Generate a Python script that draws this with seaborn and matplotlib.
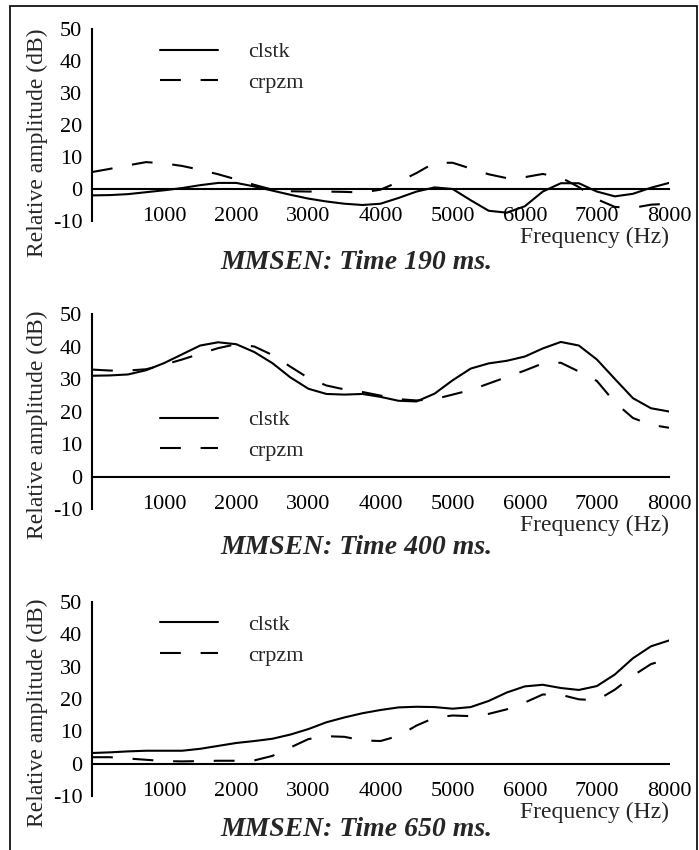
import numpy as np
import pandas as pd
import seaborn as sns
import matplotlib.pyplot as plt
from matplotlib.patches import Rectangle

# 数据：频率 (Hz)
freq = [0, 250, 500, 750, 1000, 1250, 1500, 1750, 2000, 2250, 2500, 2750, 3000,
        3250, 3500, 3750, 4000, 4250, 4500, 4750, 5000, 5250, 5500, 5750, 6000,
        6250, 6500, 6750, 7000, 7250, 7500, 7750, 8000]

# Time 190 ms
clstk_190 = [-2.0, -1.9, -1.6, -1.0, -0.4, 0.3, 1.2, 1.9, 1.9, 0.8, -0.5, -1.8, -3.0,
             -3.9, -4.6, -5.0, -4.6, -2.8, -0.8, 0.5, 0.0, -3.5, -6.8, -7.4, -5.4,
             -0.8, 1.8, 1.8, -0.8, -2.3, -1.5, 0.4, 1.9]
crpzm_190 = [5.3, 6.3, 7.4, 8.4, 8.0, 7.2, 6.0, 4.6, 3.0, 1.3, -0.2, -0.7, -0.8,
             -0.8, -0.9, -1.1, -0.2, 2.2, 5.0, 8.2, 8.2, 6.4, 4.6, 3.4, 3.7,
             4.7, 3.6, 0.6, -3.2, -5.6, -5.9, -4.9, -4.6]

# Time 400 ms
clstk_400 = [31.0, 31.1, 31.4, 32.7, 34.9, 37.6, 40.3, 41.3, 40.7, 38.3, 34.9, 30.5, 27.0,
             25.4, 25.2, 25.4, 24.5, 23.3, 23.1, 25.5, 29.6, 33.2, 34.8, 35.6, 36.9,
             39.4, 41.4, 40.3, 36.0, 30.0, 24.1, 21.0, 20.0]
crpzm_400 = [32.9, 32.6, 32.6, 33.0, 34.4, 36.0, 37.8, 39.5, 40.7, 40.0, 37.4, 33.8, 30.3,
             28.0, 26.8, 26.0, 24.9, 23.8, 23.4, 23.8, 25.2, 26.6, 28.6, 30.6, 32.6,
             34.8, 35.0, 32.3, 29.4, 22.8, 18.0, 15.9, 15.0]

# Time 650 ms
clstk_650 = [3.3, 3.5, 3.8, 4.0, 4.0, 4.0, 4.6, 5.5, 6.4, 7.0, 7.7, 9.0, 10.7,
             12.8, 14.3, 15.6, 16.6, 17.4, 17.6, 17.5, 17.0, 17.5, 19.4, 22.0, 23.9,
             24.4, 23.4, 22.8, 24.0, 27.6, 32.6, 36.3, 38.1]
crpzm_650 = [2.0, 2.0, 1.6, 1.2, 0.8, 0.7, 0.8, 0.9, 0.9, 1.0, 2.4, 5.0, 7.6,
             8.5, 8.3, 7.2, 7.0, 8.6, 11.8, 14.2, 14.9, 14.7, 15.4, 16.8, 18.9,
             21.4, 21.3, 19.9, 19.6, 22.9, 27.2, 30.8, 32.4]

titles = ['MMSEN: Time 190 ms.', 'MMSEN: Time 400 ms.', 'MMSEN: Time 650 ms.']
series = [(clstk_190, crpzm_190), (clstk_400, crpzm_400), (clstk_650, crpzm_650)]
yticks = [-10, 0, 10, 20, 30, 40, 50]
xticks = [1000, 2000, 3000, 4000, 5000, 6000, 7000, 8000]

sns.set_style('white')
plt.rcParams['font.family'] = ['Liberation Serif', 'DejaVu Serif']

W, H = 699, 850
fig = plt.figure(figsize=(W / 100, H / 100), dpi=100)

# 像素位置 (top of 50, bottom of -10)
panels_px = [(29, 221), (314, 509), (602, 796)]
title_px = [263, 548, 830]
ylab_y = [0.41, 0.43, 0.43]
leg_y = [0.80, 0.377, 0.804]
x0, x1 = 92, 669

for i in range(3):
    top, bot = panels_px[i]
    ax = fig.add_axes([x0 / W, 1 - bot / H, (x1 - x0) / W, (bot - top) / H])
    a, b = series[i]
    df = pd.DataFrame({'freq': freq * 2, 'amp': a + b,
                       'name': ['clstk'] * len(freq) + ['crpzm'] * len(freq)})
    sns.lineplot(data=df, x='freq', y='amp', style='name', color='black',
                 dashes={'clstk': '', 'crpzm': (10, 9.5)}, linewidth=1.5, ax=ax)
    ax.set_xlim(0, 8000)
    ax.set_ylim(-10, 50)
    ax.spines['top'].set_visible(False)
    ax.spines['right'].set_visible(False)
    ax.spines['bottom'].set_position(('data', 0))
    for s in ['left', 'bottom']:
        ax.spines[s].set_linewidth(1.5)
        ax.spines[s].set_color('black')
    ax.set_xticks(xticks)
    ax.set_xticklabels([str(t) for t in xticks])
    ax.set_yticks(yticks)
    ax.set_yticklabels([str(t) for t in yticks])
    ax.set_yticks([-10, 50], minor=True)
    ax.tick_params(axis='x', direction='in', length=5, width=1.5, pad=13,
                   labelsize=16, colors='black')
    ax.tick_params(axis='y', which='major', length=0, pad=7, labelsize=16, colors='black')
    ax.tick_params(axis='y', which='minor', direction='in', length=5, width=1.5)
    ax.set_ylabel('Relative amplitude (dB)', fontsize=17)
    ax.yaxis.set_label_coords(-0.095, ylab_y[i])
    ax.yaxis.label.set_va('center')
    ax.set_xlabel('Frequency (Hz)', fontsize=17)
    ax.xaxis.set_label_coords(1.0, -0.085)
    ax.xaxis.label.set_ha('right')
    ax.xaxis.label.set_va('center')
    ax.set_facecolor('none')
    h, l = ax.get_legend_handles_labels()
    ax.legend(h, l, loc='center left', bbox_to_anchor=(0.118, leg_y[i]),
              frameon=False, fontsize=16, handlelength=2.6, handletextpad=1.35,
              borderpad=0, borderaxespad=0, labelspacing=0.45)
    fig.text(356 / W, 1 - title_px[i] / H, titles[i], ha='center', va='center',
             fontsize=20, fontweight='bold', fontstyle='italic')

# 外框
fig.add_artist(Rectangle((10 / W, -0.05), 687 / W, 1.05 - 6 / H, transform=fig.transFigure,
                         fill=False, edgecolor='black', linewidth=1.2))

fig.savefig('out.png', dpi=100)
